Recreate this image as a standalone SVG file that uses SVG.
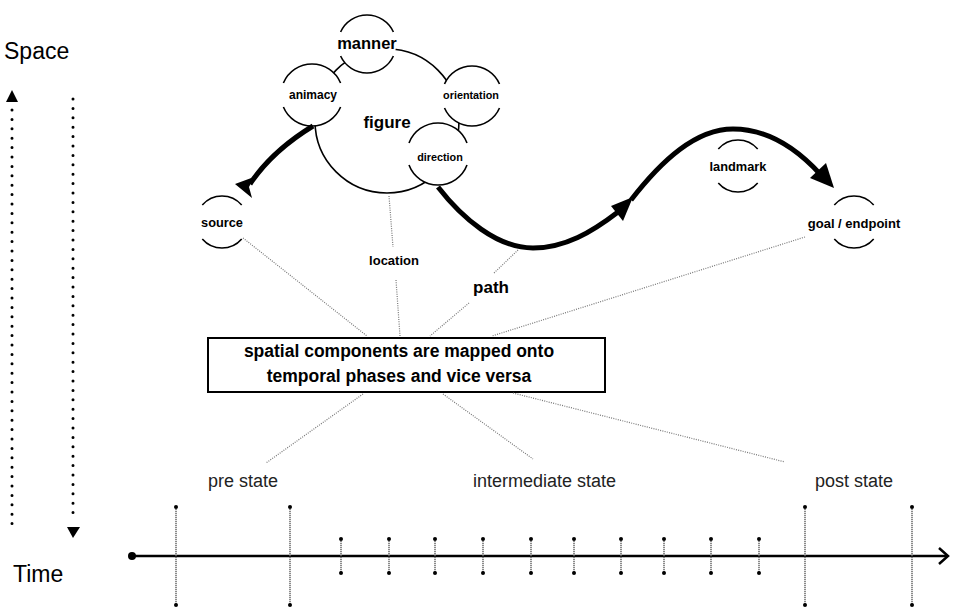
<svg xmlns="http://www.w3.org/2000/svg" width="957" height="613" viewBox="0 0 957 613">
<style>
text{font-family:"Liberation Sans",Arial,sans-serif;fill:#000}
.b{font-weight:bold;text-anchor:middle}
.halo{paint-order:stroke;stroke:#fff;stroke-width:3;stroke-linejoin:round}
.arc{fill:none;stroke:#000;stroke-width:1.6}
.disc{fill:#fff;stroke:none}
.thick{fill:none;stroke:#000;stroke-width:5;stroke-linecap:butt}
.dot{fill:none;stroke:#777;stroke-width:1.2;stroke-dasharray:1 1.3}
.tick{fill:none;stroke:#666;stroke-width:1.5;stroke-dasharray:1.2 0.8}
.big{fill:none;stroke:#000;stroke-width:3;stroke-dasharray:0 9.4;stroke-linecap:round}
.lab{font-size:18px;fill:#222}
</style>

<rect x="0" y="0" width="957" height="613" fill="#fff"/>

<!-- Space / Time axes -->
<g id="space-time">
<text x="4" y="59" font-size="23">Space</text>
<text x="13" y="582" font-size="23">Time</text>
<path class="big" d="M12,110 V528"/>
<polygon points="12,90 6,102 18,102" fill="#000"/>
<path class="big" d="M73,99 V518"/>
<polygon points="67,527 80,527 73,538" fill="#000"/>
</g>

<!-- figure big circle -->
<g id="figure">
<circle cx="387" cy="121" r="72" fill="none" stroke="#000" stroke-width="1.6"/>
<text class="b" x="387" y="128" font-size="17">figure</text>
</g>

<g id="manner">
<circle class="disc" cx="367" cy="44" r="29"/>
<path class="arc" d="M340.6,32 A29,29 0 0 1 393.4,32 M340.6,56 A29,29 0 0 0 393.4,56"/>
<text class="b halo" x="367" y="49" font-size="16.5">manner</text>
</g>

<g id="animacy">
<circle class="disc" cx="312" cy="95" r="31"/>
<path class="arc" d="M283.4,83 A31,31 0 0 1 340.6,83 M283.4,107 A31,31 0 0 0 340.6,107"/>
<text class="b halo" x="313" y="99" font-size="12">animacy</text>
</g>

<g id="orientation">
<circle class="disc" cx="472" cy="96" r="30"/>
<path class="arc" d="M444.5,84 A30,30 0 0 1 499.5,84 M444.5,108 A30,30 0 0 0 499.5,108"/>
<text class="b halo" x="471" y="99" font-size="10.8">orientation</text>
</g>

<g id="direction">
<circle class="disc" cx="438" cy="154" r="31"/>
<path class="arc" d="M409,143 A31,31 0 0 1 467,143 M409,165 A31,31 0 0 0 467,165"/>
<text class="b halo" x="440" y="161" font-size="10.8">direction</text>
</g>

<g id="source">
<path class="arc" d="M202.3,205 A26,26 0 0 1 241.7,205 M202.3,239 A26,26 0 0 0 241.7,239"/>
<text class="b" x="222" y="227" font-size="12.8">source</text>
</g>

<g id="landmark">
<path class="arc" d="M718.3,149 A26,26 0 0 1 757.7,149 M718.3,183 A26,26 0 0 0 757.7,183"/>
<text class="b" x="738" y="171" font-size="12.8">landmark</text>
</g>

<g id="goal">
<path class="arc" d="M834.3,205 A26,26 0 0 1 873.7,205 M834.3,239 A26,26 0 0 0 873.7,239"/>
<text class="b" x="854" y="228" font-size="13">goal / endpoint</text>
</g>

<g id="location">
<text class="b" x="394" y="265" font-size="13">location</text>
</g>

<g id="path-label">
<text class="b" x="491" y="293" font-size="17">path</text>
</g>

<g id="mapping-box">
<rect x="208" y="338" width="397" height="54" fill="#fff" stroke="#000" stroke-width="2"/>
<text class="b" x="399" y="357" font-size="17.5">spatial components are mapped onto</text>
<text class="b" x="399" y="382" font-size="17.5">temporal phases and vice versa</text>
</g>

<g id="pre-state"><text class="lab" x="208" y="487">pre state</text></g>
<g id="intermediate-state"><text class="lab" x="473" y="487">intermediate state</text></g>
<g id="post-state"><text class="lab" x="815" y="487">post state</text></g>

<g id="connectors">
<!-- thick motion arrows -->
<path class="thick" d="M313,126 C290,140 266,160 250,184"/>
<polygon points="235,184 254,177 249,187 252,198" fill="#000"/>
<path class="thick" d="M438,187 C462,218 497,248 533,248 C565,248 592,232 618,212"/>
<polygon points="633,197 611,206 623,221" fill="#000"/>
<path class="thick" d="M631,200 C662,160 696,129 733,129 C770,129 798,150 820,174"/>
<polygon points="834,188 810,178 826,163" fill="#000"/>
<!-- dotted mapping lines -->
<path class="dot" d="M243,238 L367,336"/>
<path class="dot" d="M389,196 L393,247"/>
<path class="dot" d="M396,280 L400,336"/>
<path class="dot" d="M518,250 L494,273"/>
<path class="dot" d="M469,303 L430,336"/>
<path class="dot" d="M805,237 L492,336"/>
<path class="dot" d="M363,394 L266,463"/>
<path class="dot" d="M443,394 L533,459"/>
<path class="dot" d="M513,393 L785,462"/>
</g>

<g id="timeline">
<line x1="132" y1="556" x2="947" y2="556" stroke="#000" stroke-width="2.5"/>
<circle cx="132" cy="556" r="4"/>
<path d="M939,548 L948,556 L939,564" fill="none" stroke="#000" stroke-width="2.5"/>
<g class="tick">
<path d="M176,507 V605 M290,507 V605 M805,507 V605 M912,507 V605"/>
<path d="M341,539 V573 M389,539 V573 M435,539 V573 M483,539 V573 M531,539 V573 M574,539 V573 M621,539 V573 M664,539 V573 M711,539 V573 M759,539 V573"/>
</g>
<g fill="#000">
<circle cx="176" cy="507" r="2"/><circle cx="176" cy="605" r="2"/>
<circle cx="290" cy="507" r="2"/><circle cx="290" cy="605" r="2"/>
<circle cx="805" cy="507" r="2"/><circle cx="805" cy="605" r="2"/>
<circle cx="912" cy="507" r="2"/><circle cx="912" cy="605" r="2"/>
<circle cx="341" cy="539" r="2"/><circle cx="341" cy="573" r="2"/>
<circle cx="389" cy="539" r="2"/><circle cx="389" cy="573" r="2"/>
<circle cx="435" cy="539" r="2"/><circle cx="435" cy="573" r="2"/>
<circle cx="483" cy="539" r="2"/><circle cx="483" cy="573" r="2"/>
<circle cx="531" cy="539" r="2"/><circle cx="531" cy="573" r="2"/>
<circle cx="574" cy="539" r="2"/><circle cx="574" cy="573" r="2"/>
<circle cx="621" cy="539" r="2"/><circle cx="621" cy="573" r="2"/>
<circle cx="664" cy="539" r="2"/><circle cx="664" cy="573" r="2"/>
<circle cx="711" cy="539" r="2"/><circle cx="711" cy="573" r="2"/>
<circle cx="759" cy="539" r="2"/><circle cx="759" cy="573" r="2"/>
</g>
</g>
</svg>
